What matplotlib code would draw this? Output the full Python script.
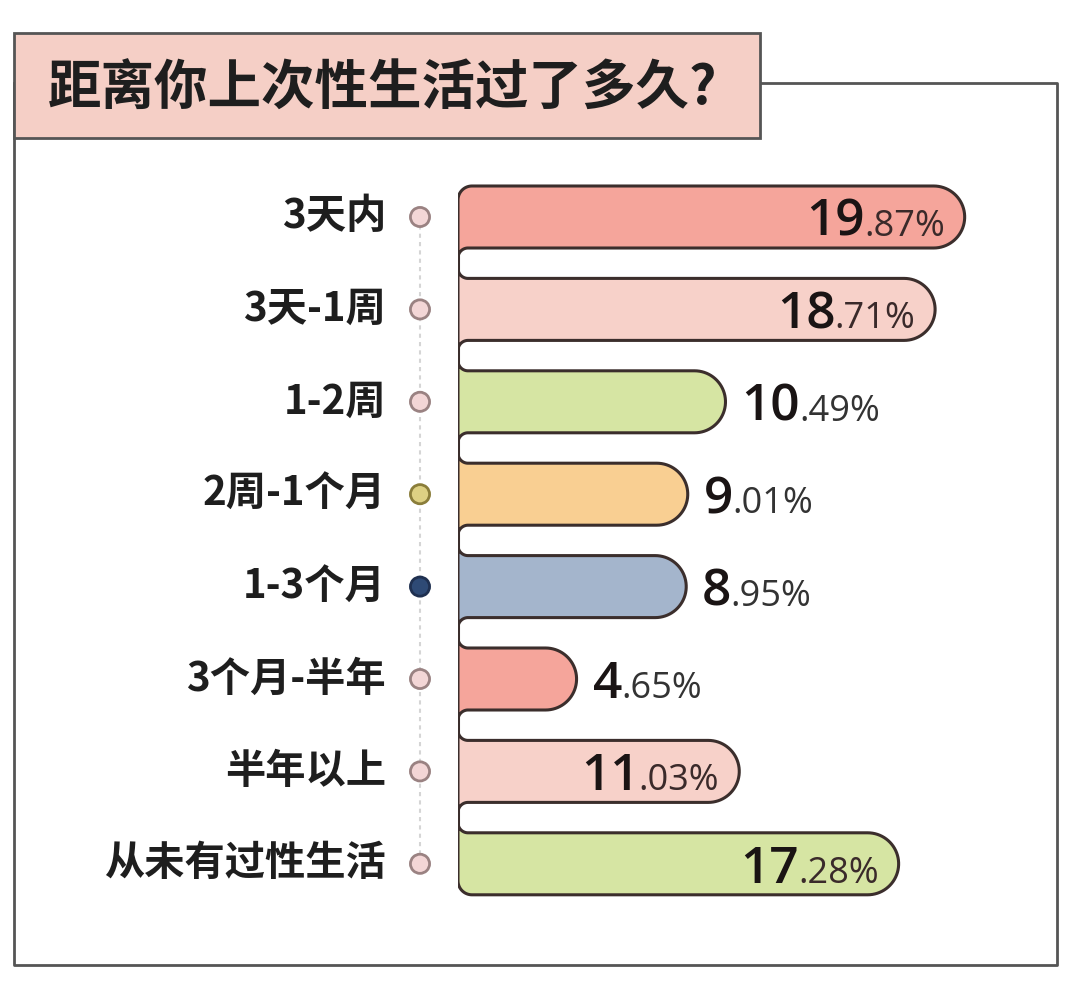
import numpy as np
import matplotlib
matplotlib.use("Agg")
import matplotlib.pyplot as plt
from matplotlib.path import Path
from matplotlib.patches import PathPatch, Rectangle

# ---------------- data ----------------
title = "距离你上次性生活过了多久?"
categories = ["3天内", "3天-1周", "1-2周", "2周-1个月", "1-3个月", "3个月-半年", "半年以上", "从未有过性生活"]
values = [19.87, 18.71, 10.49, 9.01, 8.95, 4.65, 11.03, 17.28]
bar_colors = ["#f5a59b", "#f7d1c9", "#d6e5a3", "#f9cf92", "#a4b5cc", "#f5a59b", "#f7d1c9", "#d6e5a3"]
marker_faces = ["#f3d6d6", "#f3d6d6", "#f3d6d6", "#ddd083", "#2e4a75", "#f3d6d6", "#f3d6d6", "#f3d6d6"]
marker_edges = ["#9a8282", "#9a8282", "#9a8282", "#8a7d3a", "#1f3050", "#9a8282", "#9a8282", "#9a8282"]

# ---------------- figure ----------------
W, H, DPI = 1080, 989, 100
fig = plt.figure(figsize=(W / DPI, H / DPI), dpi=DPI)
fig.patch.set_facecolor("white")

CJK = ["Noto Sans CJK SC", "DejaVu Sans"]
NUM = ["Open Sans", "DejaVu Sans"]
EDGE = "#3b2e2c"

# background overlay axes in pixel coordinates for frame/title
bg = fig.add_axes([0, 0, 1, 1])
bg.set_xlim(0, W)
bg.set_ylim(H, 0)
bg.axis("off")
bg.plot([14, 14, 1057, 1057, 760], [83, 965, 965, 83, 83], color="#555555", lw=2.0, solid_capstyle="projecting")
bg.add_patch(Rectangle((14, 33), 746, 105, facecolor="#f5cfc6", edgecolor="#555555", lw=2.0, zorder=3))
bg.text(48, 89, title, fontsize=38.5, fontweight="bold", family=CJK, color="#1e1e1e",
        va="center", ha="left", zorder=4)

# ---------------- bar axes ----------------
ax_left_px, ax_right_px = 458, 1057
ax_top_px, ax_bot_px = 83, 965
px_per_pct = 25.5
row0_px, row_step = 217, 92.4
xmax = (ax_right_px - ax_left_px) / px_per_pct
ytop = (ax_top_px - row0_px) / row_step
ybot = (ax_bot_px - row0_px) / row_step

ax = fig.add_axes([ax_left_px / W, 1 - ax_bot_px / H,
                   (ax_right_px - ax_left_px) / W, (ax_bot_px - ax_top_px) / H])
ax.set_xlim(0, xmax)
ax.set_ylim(ybot, ytop)
ax.axis("off")
ax.patch.set_alpha(0)

sx, sy = px_per_pct, row_step
bar_h = 62.0
r_end = bar_h / 2
rf = 10.0     # concave fillet radius
rc = 14.0     # convex corner radius for first/last


def arc(cx, cy, r, a0, a1, n=24):
    t = np.radians(np.linspace(a0, a1, n))
    return list(zip(cx + r * np.cos(t), cy + r * np.sin(t)))


n = len(values)
for i, (v, c) in enumerate(zip(values, bar_colors)):
    L = v * sx
    T, B = -bar_h / 2, bar_h / 2
    pts = []
    if i == 0:
        pts += arc(rc, T + rc, rc, 180, 270)
    else:
        pts += arc(rf, T - rf, rf, 180, 90)
    pts += [(L - r_end, T)]
    pts += arc(L - r_end, 0, r_end, -90, 90, 40)
    if i == n - 1:
        pts += arc(rc, B - rc, rc, 90, 180)
    else:
        pts += [(rf, B)]
        pts += arc(rf, B + rf, rf, -90, -180)
    pts.append(pts[0])
    data_pts = [(px / sx, i + py / sy) for px, py in pts]
    codes = [Path.MOVETO] + [Path.LINETO] * (len(data_pts) - 2) + [Path.CLOSEPOLY]
    ax.add_patch(PathPatch(Path(data_pts, codes), facecolor=c, edgecolor=EDGE, lw=2.2, zorder=3,
                           joinstyle="round"))

ax.plot([0, 0], [0 + (-bar_h / 2 + rc) / sy, n - 1 + (bar_h / 2 - rc) / sy], color=EDGE, lw=2.2, zorder=2)

# markers and dashed guide
mx = -38 / sx
ax.plot([mx, mx], [0, n - 1], color="#d5d5d5", lw=1.5, ls=(0, (2, 2)), zorder=1, clip_on=False)
ax.scatter([mx] * n, range(n), s=190, c=marker_faces, edgecolors=marker_edges, linewidths=2.0,
           zorder=4, clip_on=False)

# category labels
for i, cat in enumerate(categories):
    ax.text(-72 / sx, i, cat, ha="right", va="center", fontsize=29, fontweight="bold",
            family=CJK, color="#1e1e1e", clip_on=False)

# value labels
fig.canvas.draw()
renderer = fig.canvas.get_renderer()
base_off = 19 / sy
for i, v in enumerate(values):
    s = f"{v:.2f}"
    ip, dp = s.split(".")
    L = v * sx
    y = i + base_off
    if v >= 11:
        x_end = (L - 20) / sx
        t2 = ax.text(x_end, y, "." + dp + "%", ha="right", va="baseline", fontsize=26,
                     family=NUM, color="#3a2a2a", zorder=5)
        w = t2.get_window_extent(renderer).width / sx
        ax.text(x_end - w + 0.04, y, ip, ha="right", va="baseline", fontsize=37, fontweight="semibold",
                family=NUM, color="#1a1414", zorder=5)
    else:
        x0 = (L + 16) / sx
        t1 = ax.text(x0, y, ip, ha="left", va="baseline", fontsize=37, fontweight="semibold",
                     family=NUM, color="#1a1414", zorder=5)
        w = t1.get_window_extent(renderer).width / sx
        ax.text(x0 + w - 0.04, y, "." + dp + "%", ha="left", va="baseline", fontsize=26,
                family=NUM, color="#333333", zorder=5)

fig.savefig("out.png", dpi=DPI, facecolor="white")
